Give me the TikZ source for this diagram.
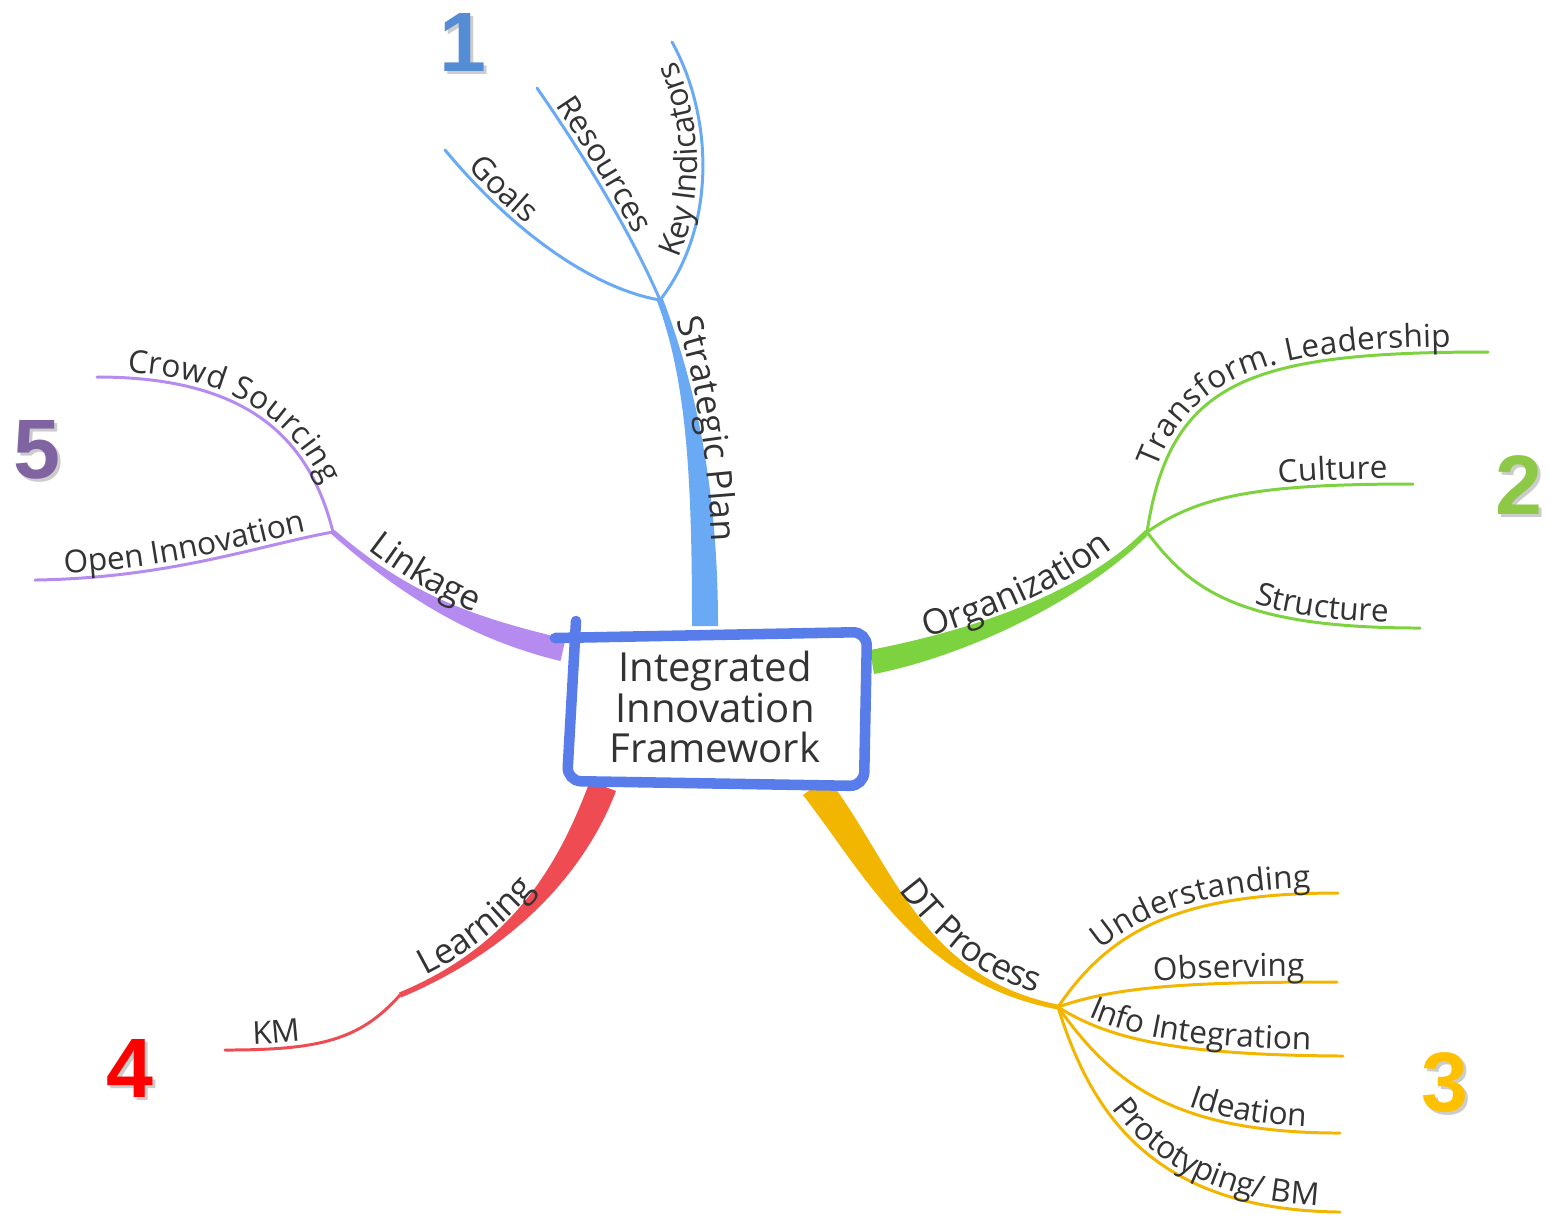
\documentclass[tikz,border=0pt]{standalone}
\usepackage{fontspec}
\setmainfont{Open Sans}
\newfontfamily\numfamily{Liberation Sans}
\usetikzlibrary{calc,decorations.text}

\definecolor{txt}{HTML}{333333}
\definecolor{boxblue}{HTML}{587DEB}
\definecolor{spblue}{HTML}{6AA9F4}
\definecolor{orggreen}{HTML}{7DD33F}
\definecolor{dtyellow}{HTML}{F2B600}
\definecolor{lrnred}{HTML}{EE4B53}
\definecolor{lnkpurple}{HTML}{B58BF0}
\definecolor{numblue}{HTML}{548DD4}
\definecolor{numgreen}{HTML}{8DC846}
\definecolor{numyellow}{HTML}{FFC000}
\definecolor{numred}{HTML}{FF0000}
\definecolor{numpurple}{HTML}{8064A2}

\newcommand\brfont{\fontsize{10}{10}\selectfont\color{txt}}
\newcommand\lffont{\fontsize{9}{9}\selectfont\color{txt}}

\tikzset{
  leaf/.style={line width=0.85pt, line cap=round},
  leaf label/.style 2 args={postaction={decorate, decoration={text along path,
      text={|\lffont|#1}, text align={left indent=#2}, raise=1.6pt}}},
  branch label/.style n args={3}{decorate, decoration={text along path,
      text={|\brfont|#1}, text align={left indent=#2}, raise=#3}},
  bignum/.style={font=\numfamily\bfseries\fontsize{24}{24}\selectfont, inner sep=0pt},
  numshadow/.style={bignum, text=black!50, opacity=0.4},
}

\begin{document}
\begin{tikzpicture}[x=0.1mm, y=-0.1mm]
  \useasboundingbox (0,0) rectangle (1550,1216);

  % junctions
  \coordinate (sp) at (660,300);
  \coordinate (org) at (1147,532);
  \coordinate (dt) at (1058,1007);
  \coordinate (lrn) at (400,995);
  \coordinate (lnk) at (333,532);
  % where the main branches leave the box
  \coordinate (sp0) at (705,626);
  \coordinate (org0) at (872,662);
  \coordinate (dt0) at (815,786);
  \coordinate (lrn0) at (603,786);
  \coordinate (lnk0) at (563,650);
  % leaf ends
  \coordinate (goals) at (445,150);
  \coordinate (res) at (537,88);
  \coordinate (keyi) at (672,42);
  \coordinate (tl) at (1488,352);
  \coordinate (cul) at (1413,484);
  \coordinate (str) at (1420,628);
  \coordinate (und) at (1338,893);
  \coordinate (obs) at (1337,982);
  \coordinate (info) at (1343,1056);
  \coordinate (ide) at (1340,1133);
  \coordinate (proto) at (1340,1212);
  \coordinate (km) at (225,1050);
  \coordinate (crowd) at (97,377);
  \coordinate (oi) at (35,580);

  % main branches (tapered)
  \fill[spblue] ($(sp0)+(-13,0)$) .. controls (692,480) and (687,381) .. ($(sp)+(-3,1)$)
    -- ($(sp)+(3,-1)$) .. controls (693,379) and (718,480) .. ($(sp0)+(13,0)$) -- cycle;
  \fill[orggreen] ($(org0)+(-2,-12)$) .. controls (958,633) and (1078,598) .. ($(org)+(-2,-2)$)
    -- ($(org)+(2,2)$) .. controls (1082,602) and (962,657) .. ($(org0)+(2,12)$) -- cycle;
  \fill[dtyellow] ($(dt0)+(12,-9)$) .. controls (892,861) and (920,977) .. ($(dt)+(0,-2.5)$)
    -- ($(dt)+(0,2.5)$) .. controls (919,983) and (868,879) .. ($(dt0)+(-12,9)$) -- cycle;
  \fill[lrnred] ($(lrn0)+(13,5)$) .. controls (588,865) and (521,947) .. ($(lrn)+(1,2.5)$)
    -- ($(lrn)+(-1,-2.5)$) .. controls (519,943) and (562,855) .. ($(lrn0)+(-13,-5)$) -- cycle;
  \fill[lnkpurple] ($(lnk0)+(2.5,-11)$) .. controls (482,619) and (412,598) .. ($(lnk)+(1.7,-2)$)
    -- ($(lnk)+(-1.7,2)$) .. controls (408,602) and (478,641) .. ($(lnk0)+(-2.5,11)$) -- cycle;

  \path[branch label={Strategic Plan}{7pt}{2.5pt}] (sp) .. controls (690,380) and (705,480) .. (sp0);
  \path[branch label={Organization}{17pt}{3pt}] (org0) .. controls (960,645) and (1080,600) .. (org);
  \path[branch label={DT Process}{38pt}{2.5pt}] (dt0) .. controls (880,870) and (920,980) .. (dt);
  \path[branch label={Learning}{9pt}{2pt}] (lrn) .. controls (520,945) and (575,860) .. (lrn0);
  \path[branch label={Linkage}{11pt}{2.5pt}] (lnk) .. controls (410,600) and (480,630) .. (lnk0);

  % leaves
  \draw[leaf, spblue, leaf label={Goals}{8pt}] (goals) .. controls (520,240) and (600,290) .. (sp);
  \draw[leaf, spblue, leaf label={Resources}{7pt}] (res) .. controls (580,150) and (630,230) .. (sp);
  \draw[leaf, spblue, leaf label={Key Indicators}{13pt}] (sp) .. controls (715,230) and (715,120) .. (keyi);

  \draw[leaf, orggreen, leaf label={Transform. Leadership}{18pt}] (org) .. controls (1170,380) and (1250,352) .. (tl);
  \draw[leaf, orggreen, leaf label={Culture}{40pt}] (org) .. controls (1200,495) and (1260,484) .. (cul);
  \draw[leaf, orggreen, leaf label={Structure}{38pt}] (org) .. controls (1190,590) and (1240,628) .. (str);

  \draw[leaf, dtyellow, leaf label={Understanding}{20pt}] (dt) .. controls (1110,930) and (1180,893) .. (und);
  \draw[leaf, dtyellow, leaf label={Observing}{28pt}] (dt) .. controls (1120,985) and (1200,982) .. (obs);
  \draw[leaf, dtyellow, leaf label={Info Integration}{9pt}] (dt) .. controls (1110,1040) and (1180,1055) .. (info);
  \draw[leaf, dtyellow, leaf label={Ideation}{48pt}] (dt) .. controls (1110,1080) and (1170,1133) .. (ide);
  \draw[leaf, dtyellow, leaf label={Prototyping/ BM}{33pt}] (dt) .. controls (1090,1110) and (1150,1210) .. (proto);

  \draw[leaf, lrnred, leaf label={KM}{8pt}] (km) .. controls (320,1050) and (360,1040) .. (lrn);

  \draw[leaf, lnkpurple, leaf label={Crowd Sourcing}{8.5pt}] (crowd) .. controls (250,377) and (310,440) .. (lnk);
  \draw[leaf, lnkpurple, leaf label={Open Innovation}{8.5pt}] (oi) .. controls (170,578) and (260,545) .. (lnk);

  % central box
  \fill[white] (570,636) rectangle (865,783);
  \draw[boxblue, line width=3pt, line cap=round, rounded corners=4pt]
    (576,621) -- (567,781) -- (864,786) -- (867,632) -- (555,638);
  \node[align=center, text=txt, font=\fontsize{11.4}{11.5}\selectfont] (root) at (715,707)
    {Integrated\\Innovation\\Framework};

  % numbers
  \node[numshadow] (n1s) at (466,45) {1};
  \node[bignum, text=numblue] (n1) at (463,42) {1};
  \node[numshadow] (n2s) at (1522,488) {2};
  \node[bignum, text=numgreen] (n2) at (1519,485) {2};
  \node[numshadow] (n3s) at (1448,1085) {3};
  \node[bignum, text=numyellow] (n3) at (1445,1082) {3};
  \node[numshadow] (n4s) at (133,1071) {4};
  \node[bignum, text=numred] (n4) at (130,1068) {4};
  \node[numshadow] (n5s) at (40,453) {5};
  \node[bignum, text=numpurple] (n5) at (37,450) {5};
\end{tikzpicture}
\end{document}
